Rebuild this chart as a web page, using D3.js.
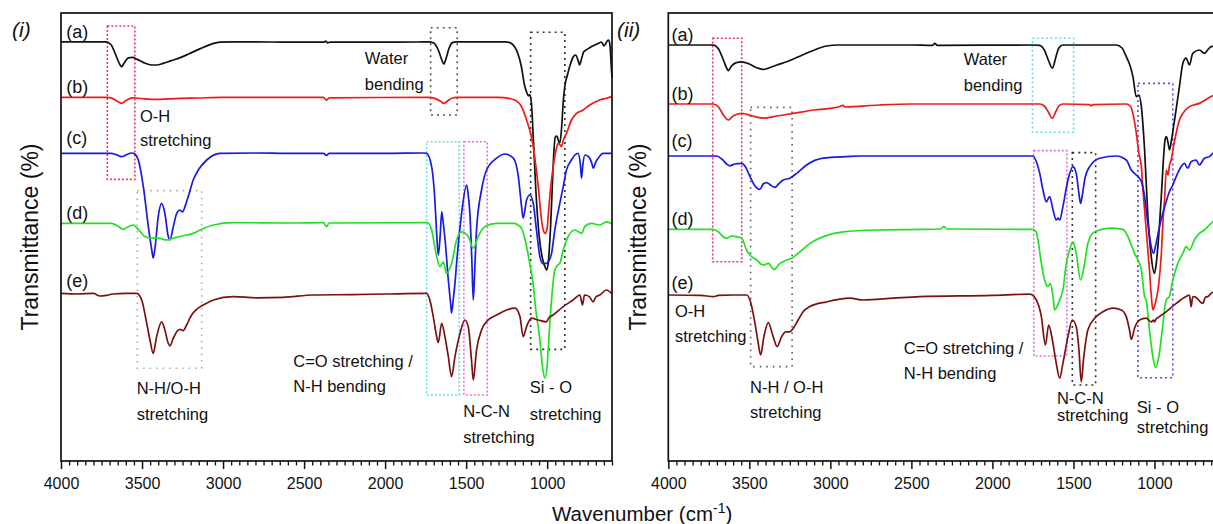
<!DOCTYPE html>
<html>
<head>
<meta charset="utf-8">
<script src="https://cdn.jsdelivr.net/npm/d3@7"></script>
<style>
  body { margin: 0; background: #fff; }
  text { font-family: "Liberation Sans", Arial, sans-serif; fill: #111; }
</style>
</head>
<body>
<script>
// ---- spectra, panel (i): [wavenumber, transmittance (offset, a.u.)]
var iA = [[4000,104.8],[3720,104.8],[3690,104],[3660,101.3],[3635,99],[3626,98.6],[3610,99.5],[3585,100.8],[3560,100.9],[3530,100.4],[3490,99.6],[3440,99],[3410,99],[3370,99.4],[3320,100.1],[3260,100.9],[3210,101.8],[3140,103.1],[3080,104.1],[3020,104.7],[2940,104.8],[2700,104.75],[2500,104.7],[2380,104.7],[2365,104.95],[2355,104.55],[2340,104.7],[2000,104.7],[1800,104.75],[1730,104.8],[1700,104.5],[1672,102.75],[1650,100.25],[1638,99.25],[1625,100.5],[1605,103.25],[1585,104.6],[1560,104.8],[1260,104.8],[1230,104.6],[1200,103.5],[1180,101.75],[1160,98.75],[1140,94],[1125,92],[1115,91.25],[1108,91.6],[1098,89.75],[1085,80.25],[1070,67.75],[1050,56.5],[1030,50.75],[1010,48.25],[1003,47.75],[993,49.75],[980,57.75],[968,69],[958,77.75],[950,81],[940,81.25],[930,80],[922,79.5],[912,82.75],[900,90.25],[890,94],[875,96.5],[860,98.75],[840,101],[825,101.5],[810,100.25],[800,99],[790,100.25],[775,102.25],[760,102.75],[740,103.25],[720,103.75],[700,104.1],[680,104.5],[668,104.75],[660,104.5],[650,103.75],[640,104.25],[630,105],[620,105.25],[612,103.75],[605,99],[600,95.75]];
var iB = [[4000,90.9],[3720,90.9],[3680,90.6],[3645,89.75],[3626,89.4],[3600,90.1],[3560,90.8],[3500,90.6],[3410,90.4],[3300,90.6],[3150,90.75],[3000,90.9],[2380,90.9],[2362,90.2],[2345,90.8],[1730,90.9],[1690,90.6],[1660,90],[1637,89.4],[1615,90],[1585,90.75],[1560,90.9],[1300,90.9],[1230,90.6],[1189,90],[1160,88.75],[1127,85.25],[1100,81.5],[1086,78.6],[1070,73.75],[1055,68.6],[1035,60.25],[1020,57.25],[1012,56.9],[1000,58.25],[994,61.1],[980,67.75],[963,73.6],[945,77.75],[932,79.4],[920,79],[912,78.6],[900,80.25],[881,81.9],[850,85.25],[819,86.9],[778,87.75],[737,89],[675,90.25],[634,90.7],[603,91.1]];
var iC = [[4000,76.9],[3690,76.9],[3660,76.6],[3626,76.1],[3600,76.5],[3565,77],[3545,76.75],[3523,75.25],[3492,68.6],[3461,58.6],[3440,52.75],[3431,50.75],[3420,53.25],[3400,61.1],[3379,64.4],[3359,61.9],[3338,56.1],[3328,55.25],[3307,58.6],[3286,61.9],[3266,62.75],[3250,62.25],[3235,63.6],[3215,66.1],[3184,70.25],[3153,72.75],[3101,75.25],[3019,76.9],[2800,77],[2600,76.9],[2380,76.9],[2362,76.4],[2345,76.9],[2000,76.9],[1760,77],[1744,76.9],[1713,73.6],[1693,65.25],[1682,56.9],[1672,51.5],[1660,56.5],[1651,62.3],[1640,59],[1630,55.25],[1610,45.25],[1595,39],[1590,37],[1580,40.25],[1569,44.4],[1559,49.4],[1528,61.9],[1497,69],[1487,66.5],[1477,61.9],[1465,50.25],[1456,40.25],[1447,47.75],[1436,57.75],[1405,67.75],[1374,72.75],[1312,75.7],[1261,76.75],[1209,75.7],[1178,71.1],[1158,63.6],[1148,60.7],[1127,65.25],[1107,66.5],[1086,64.4],[1066,57.75],[1045,51.1],[1029,49.4],[1004,49.4],[990,50],[973,51.9],[953,57.75],[922,64.4],[901,68.6],[881,72.75],[850,75.25],[829,76.5],[809,76.9],[795,74],[788,70.7],[780,74],[767,76.5],[745,76.1],[725,74.5],[716,73.2],[700,74.75],[685,75.7],[655,76.9],[603,76.9]];
var iD = [[4000,59.4],[3690,59.4],[3650,58.75],[3616,57.9],[3590,58.5],[3554,59],[3520,57.75],[3482,56.1],[3441,55.7],[3400,55.7],[3348,55.25],[3290,55.9],[3225,56.5],[3184,56.9],[3142,57.75],[3060,59],[2937,59.6],[2600,59.5],[2380,59.6],[2362,58.6],[2345,59.5],[1750,59.6],[1734,59.5],[1713,57.75],[1682,51.1],[1662,48.6],[1641,49.8],[1621,46.9],[1600,48.25],[1590,49.4],[1559,55.25],[1528,57.3],[1487,56.1],[1456,53.2],[1426,56.1],[1384,58.6],[1312,59.4],[1209,59.4],[1158,58.2],[1127,53.6],[1097,46.9],[1090,45.25],[1070,37.75],[1045,30.25],[1029,23.6],[1014,20.7],[1000,24],[994,27.75],[973,40.25],[953,47.75],[935,49],[922,49.4],[901,52.75],[871,56.1],[829,57.75],[788,56.9],[768,58.6],[727,59.4],[675,59],[634,59.8],[603,59.4]];
var iE = [[4000,41.9],[3900,41.75],[3800,41.9],[3760,41.25],[3720,41.4],[3680,41.75],[3600,41.9],[3533,41.9],[3502,40.25],[3471,34.4],[3451,30.25],[3431,26.9],[3410,31.1],[3379,34.8],[3359,32.75],[3338,29.4],[3328,28.8],[3307,30.7],[3286,32.3],[3266,32.9],[3246,32.6],[3225,34],[3194,36.5],[3163,37.9],[3122,39],[3060,40.25],[2937,41.1],[2793,40.8],[2629,40.9],[2443,41.5],[2200,41.6],[2000,41.75],[1744,41.9],[1724,40.25],[1703,36.1],[1682,31.1],[1672,29.6],[1651,34.4],[1631,31.1],[1610,26.1],[1590,21.1],[1569,26.1],[1538,31.9],[1508,35.25],[1487,33.6],[1467,25.25],[1456,20.25],[1436,27.75],[1405,32.75],[1364,35.25],[1312,36.5],[1251,37.75],[1199,38.2],[1168,36.1],[1148,31.1],[1127,33.6],[1097,35.7],[1056,35.25],[1004,34.8],[990,35.75],[963,36.5],[901,38.6],[840,40.25],[798,41.5],[782,39],[770,41.5],[740,41.1],[716,39.8],[700,41],[675,41.5],[634,42.75],[603,41.9]];

// ---- spectra, panel (ii)
var iiA = [[4000,104],[3723,104],[3690,103],[3660,100.25],[3640,98.25],[3630,97.6],[3610,98.75],[3580,99.6],[3547,99.8],[3500,99.25],[3450,98.25],[3414,97.9],[3380,98.25],[3330,99],[3270,99.8],[3200,101],[3126,102.3],[3023,103.75],[2950,104],[2500,104],[2370,103.9],[2356,104.4],[2340,103.9],[1750,104],[1708,103.9],[1680,102.75],[1655,100.25],[1630,98.2],[1610,100.75],[1590,103.25],[1565,104],[1236,104],[1200,103.25],[1174,101.1],[1150,98.75],[1133,96.1],[1112,91.1],[1096,91.5],[1081,88.6],[1061,77.75],[1041,61.5],[1020,51.1],[1000,46.9],[990,49],[979,53.6],[958,66.1],[945,75.25],[935,80.25],[927,81.1],[917,79.75],[907,77.75],[895,80.25],[876,85.25],[846,93.6],[825,99.4],[805,100.7],[784,99],[764,101.9],[723,102.75],[692,101.9],[672,102.75],[651,103.6],[600,103.75]];
var iiB = [[4000,89.25],[3723,89.25],[3690,88.5],[3660,86.5],[3630,85.25],[3600,86.25],[3547,86.9],[3480,86.25],[3414,85.7],[3330,86.25],[3229,86.9],[3100,87.75],[2950,88.5],[2921,88.9],[2910,88.5],[2700,89],[2500,89.25],[1708,89.25],[1680,88.75],[1655,87.25],[1630,85.7],[1610,87.25],[1590,88.75],[1565,89.25],[1400,89.1],[1390,88.75],[1380,89.1],[1174,89.25],[1150,88.75],[1133,86.9],[1112,81.9],[1096,76.9],[1081,73.6],[1071,67.75],[1051,57.75],[1031,47.75],[1020,41.5],[1010,37.75],[1000,38.75],[990,40.25],[973,44.5],[958,51.5],[947,60.25],[938,65.25],[927,72.75],[917,71.5],[907,74],[897,75.25],[881,79],[866,82],[846,85.25],[825,86.9],[784,88.6],[723,89.4],[651,91.1],[600,92]];
var iiC = [[4000,76.25],[3702,76.25],[3670,75.5],[3640,74.25],[3620,73.8],[3590,74.25],[3547,74.4],[3520,73.25],[3496,71.1],[3465,68.75],[3435,67.9],[3415,69.25],[3393,69.6],[3370,69],[3342,68.4],[3320,69.25],[3291,70.25],[3250,70.7],[3208,71.9],[3147,74],[3044,75.7],[2900,76.1],[2818,76.25],[1750,76.25],[1728,74.75],[1708,71.9],[1688,67.75],[1667,64.8],[1647,66.1],[1626,62.75],[1606,60.25],[1595,60.75],[1585,60.25],[1565,63.6],[1534,70.25],[1503,73.6],[1483,71.9],[1465,66.5],[1456,64.4],[1445,66.5],[1431,70.25],[1400,73.6],[1338,75.7],[1236,76.25],[1174,75.25],[1143,72.75],[1123,71.9],[1102,71.1],[1081,69.9],[1061,66.1],[1041,59.4],[1020,53.6],[1006,51.9],[990,54.4],[969,58.6],[949,61.9],[928,64.8],[908,67.3],[887,69],[866,71.1],[835,73.6],[815,74.4],[795,73.2],[774,74.8],[743,75.25],[723,74],[692,75.7],[661,76.1],[640,76.9],[600,77.75]];
var iiD = [[4000,57.9],[3723,57.9],[3690,57.25],[3660,56],[3640,55.7],[3610,56.25],[3580,56.1],[3547,55.7],[3517,52.75],[3496,51.5],[3455,50.25],[3414,49],[3383,49.4],[3348,47.9],[3311,49.4],[3270,50.25],[3239,50.7],[3188,52.3],[3126,54.4],[3044,56.1],[2921,57.3],[2715,57.75],[2449,57.9],[2320,58],[2300,58.6],[2280,58],[1750,57.9],[1730,57.25],[1719,55.25],[1698,49.4],[1678,45.25],[1657,43.6],[1643,44.4],[1626,41.1],[1616,37.75],[1600,38.75],[1585,40.25],[1565,42.75],[1544,49.4],[1524,52.75],[1503,54.8],[1483,51.9],[1456,45.25],[1431,49.4],[1411,54.4],[1369,57.3],[1277,58.2],[1195,57.9],[1164,56.1],[1143,54],[1123,51.9],[1102,50.25],[1081,47.75],[1061,41.1],[1051,40.25],[1031,32.75],[1010,26.1],[994,23.4],[973,26.1],[952,32.75],[928,40.25],[908,41.1],[887,45.25],[856,49.4],[825,51.9],[805,53.6],[784,52.75],[754,55.25],[723,56.9],[692,57.75],[661,59],[600,61.5]];
var iiE = [[4000,41.5],[3800,41.4],[3720,41.1],[3690,41.4],[3600,41.5],[3517,41.5],[3496,40.25],[3465,34.4],[3445,29.4],[3430,26.5],[3410,31.1],[3383,34.6],[3353,31.1],[3328,28.6],[3301,31.1],[3274,32.3],[3250,32.3],[3229,33.2],[3199,35.25],[3168,37.3],[3126,38.6],[3023,39.8],[2880,40.7],[2797,40.25],[2613,40.7],[2449,41.1],[2000,41.4],[1770,41.7],[1729,40.25],[1698,36.1],[1673,29],[1653,34],[1630,30.25],[1606,24.4],[1585,20.7],[1565,24.4],[1534,31.1],[1507,35.25],[1483,33.6],[1466,27.75],[1452,19.8],[1436,26.1],[1411,32.75],[1369,35.7],[1318,37.3],[1256,38.2],[1205,37.75],[1174,36.1],[1154,32.75],[1143,30.4],[1123,33.2],[1092,35.25],[1051,35.7],[1020,34.8],[1005,35.25],[1000,34.75],[990,35.5],[969,36.1],[928,37.3],[866,39.4],[805,41.1],[784,41.5],[774,38.6],[764,41],[754,41.1],[740,40.75],[702,39.4],[685,41],[671,41.1],[651,41.9],[600,42.75]];

var sampleLabels = ["(a)", "(b)", "(c)", "(d)", "(e)"];
var majorTicks = [4000, 3500, 3000, 2500, 2000, 1500, 1000];

// band boxes: [high wavenumber, low wavenumber, top, bottom]
var boxesI = [[3714,3544,108.75,70.4],[3529,3132,67.6,23.2],[1719,1555,108.3,86.5],[1102,891,107.2,27.9],[1744,1543,79.8,16.5],[1514,1370,79.8,16.5]];
var boxesII = [[3726,3547,105.7,49.8],[3492,3236,88.4,23.6],[1753,1499,105.7,82.2],[1745,1540,77.6,26.25],[1507,1363,77.1,19],[1102,887,94.4,20.8]];

// band notes: text lines, anchored at [wavenumber, transmittance]
var notesI = [
  {lines: ["O-H", "stretching"], at: [3513, 84.8]},
  {lines: ["Water", "bending"], at: [2125, 99.25]},
  {lines: ["N-H/O-H", "stretching"], at: [3533, 16.75]},
  {lines: ["C=O stretching /", "N-H bending"], at: [2567, 23.6]},
  {lines: ["N-C-N", "stretching"], at: [1518, 11.1]},
  {lines: ["Si - O", "stretching"], at: [1107, 16.9]}
];
var notesII = [
  {lines: ["Water", "bending"], at: [2177, 99]},
  {lines: ["O-H", "stretching"], at: [3959, 36.1]},
  {lines: ["N-H / O-H", "stretching"], at: [3496, 17.1]},
  {lines: ["C=O stretching /", "N-H bending"], at: [2547, 26.75]},
  {lines: ["N-C-N", "stretching"], at: [1602, 14.25]},
  {lines: ["Si - O", "stretching"], at: [1109, 12.1]}
];

// styles
var traceColors = ["#111111", "#ee1a1a", "#1a1ae2", "#22e022", "#7a1212"];
var labelLift = [4, 4.5, 9, 4, 6];
var boxColorsI = ["#e8386b", "#aaaaaa", "#555555", "#333333", "#66dde8", "#e070e0"];
var boxDashI = ["2,2", "1.5,5", "2,4", "2,4", "2,2", "2,2"];
var boxColorsII = ["#e8386b", "#555555", "#66dde8", "#e070e0", "#333333", "#7040e0"];
var boxDashII = ["2,2", "1.5,5", "2,2.5", "2,2", "2,4", "2,3"];
var noteGapI = [24.5, 25.5, 26, 25, 26, 26.5];
var noteGapII = [25.5, 25, 25, 25.3, 16.7, 20];

var width = 1213, height = 524;
var plotTop = 13, plotBottom = 461, plotWidth = 551;

var svg = d3.select("body")
  .append("svg")
    .attr("width", width)
    .attr("height", height);

var y = d3.scaleLinear()
    .domain([0, 112])
    .range([plotBottom, plotTop]);

var panels = [
  {tag: "(i)", left: 61, tagX: 12, titleX: 38, series: [iA, iB, iC, iD, iE],
   boxes: boxesI, boxColors: boxColorsI, boxDash: boxDashI, notes: notesI, gaps: noteGapI, labelW: 3967},
  {tag: "(ii)", left: 668.3, tagX: 617, titleX: 646, series: [iiA, iiB, iiC, iiD, iiE],
   boxes: boxesII, boxColors: boxColorsII, boxDash: boxDashII, notes: notesII, gaps: noteGapII, labelW: 3980}
];

panels.forEach(function(p) {
  var x = d3.scaleLinear()
      .domain([4000, 600])
      .range([p.left, p.left + plotWidth]);

  var g = svg.append("g");

  // dotted band boxes
  g.selectAll("rect.box")
      .data(p.boxes)
    .enter().append("rect")
      .attr("class", "box")
      .attr("x", function(d) { return x(d[0]); })
      .attr("width", function(d) { return x(d[1]) - x(d[0]); })
      .attr("y", function(d) { return y(d[2]); })
      .attr("height", function(d) { return y(d[3]) - y(d[2]); })
      .attr("fill", "none")
      .attr("stroke", function(d, i) { return p.boxColors[i]; })
      .attr("stroke-width", 1.6)
      .attr("stroke-dasharray", function(d, i) { return p.boxDash[i]; });

  // spectra
  var line = d3.line()
      .x(function(d) { return x(d[0]); })
      .y(function(d) { return y(d[1]); })
      .curve(d3.curveMonotoneX);

  g.selectAll("path.spec")
      .data(p.series)
    .enter().append("path")
      .attr("class", "spec")
      .attr("d", line)
      .attr("fill", "none")
      .attr("stroke", function(d, i) { return traceColors[i]; })
      .attr("stroke-width", 1.7)
      .attr("stroke-linejoin", "round");

  // (a)..(e)
  g.selectAll("text.lab")
      .data(p.series)
    .enter().append("text")
      .attr("class", "lab")
      .attr("x", x(p.labelW))
      .attr("y", function(d, i) { return y(d[0][1]) - labelLift[i]; })
      .style("font-size", "18px")
      .text(function(d, i) { return sampleLabels[i]; });

  // band notes
  p.notes.forEach(function(n, i) {
    var t = g.append("text")
        .attr("x", x(n.at[0]))
        .attr("y", y(n.at[1]))
        .style("font-size", "16.5px");
    n.lines.forEach(function(s, k) {
      t.append("tspan")
          .attr("x", x(n.at[0]))
          .attr("dy", k === 0 ? 0 : p.gaps[i])
          .text(s);
    });
  });

  // frame
  g.append("rect")
      .attr("x", x(4000))
      .attr("y", plotTop)
      .attr("width", x(600) - x(4000))
      .attr("height", plotBottom - plotTop)
      .attr("fill", "none")
      .attr("stroke", "#111")
      .attr("stroke-width", 1.7);

  // minor ticks
  var minor = d3.range(600, 4001, 50).filter(function(v) { return v % 500 !== 0; });
  var minorAxis = g.append("g")
      .attr("transform", "translate(0," + plotBottom + ")")
      .call(d3.axisBottom(x).tickValues(minor).tickSize(4.5).tickFormat(""));
  minorAxis.select(".domain").remove();
  minorAxis.selectAll("line").attr("stroke", "#111").attr("stroke-width", 1.3);

  // major ticks + labels
  var xAxis = g.append("g")
      .attr("transform", "translate(0," + plotBottom + ")")
      .call(d3.axisBottom(x).tickValues(majorTicks).tickSize(8).tickPadding(8.5).tickFormat(d3.format("d")));
  xAxis.select(".domain").remove();
  xAxis.selectAll("line").attr("stroke", "#111").attr("stroke-width", 1.5);
  xAxis.selectAll("text")
      .attr("fill", "#111")
      .style("font-family", "'Liberation Sans', Arial, sans-serif")
      .style("font-size", "16px");

  // panel tag
  g.append("text")
      .attr("x", p.tagX)
      .attr("y", 37)
      .style("font-size", "21px")
      .style("font-style", "italic")
      .text(p.tag);

  // y title
  g.append("text")
      .attr("transform", "translate(" + p.titleX + "," + ((plotTop + plotBottom) / 2) + ") rotate(-90)")
      .attr("text-anchor", "middle")
      .style("font-size", "23px")
      .text("Transmittance (%)");
});

// x title
var xt = svg.append("text")
    .attr("x", 552)
    .attr("y", 521)
    .style("font-size", "20.5px");
xt.append("tspan").text("Wavenumber (cm");
xt.append("tspan").attr("dy", -8).style("font-size", "14px").text("-1");
xt.append("tspan").attr("dy", 8).text(")");
</script>
</body>
</html>
